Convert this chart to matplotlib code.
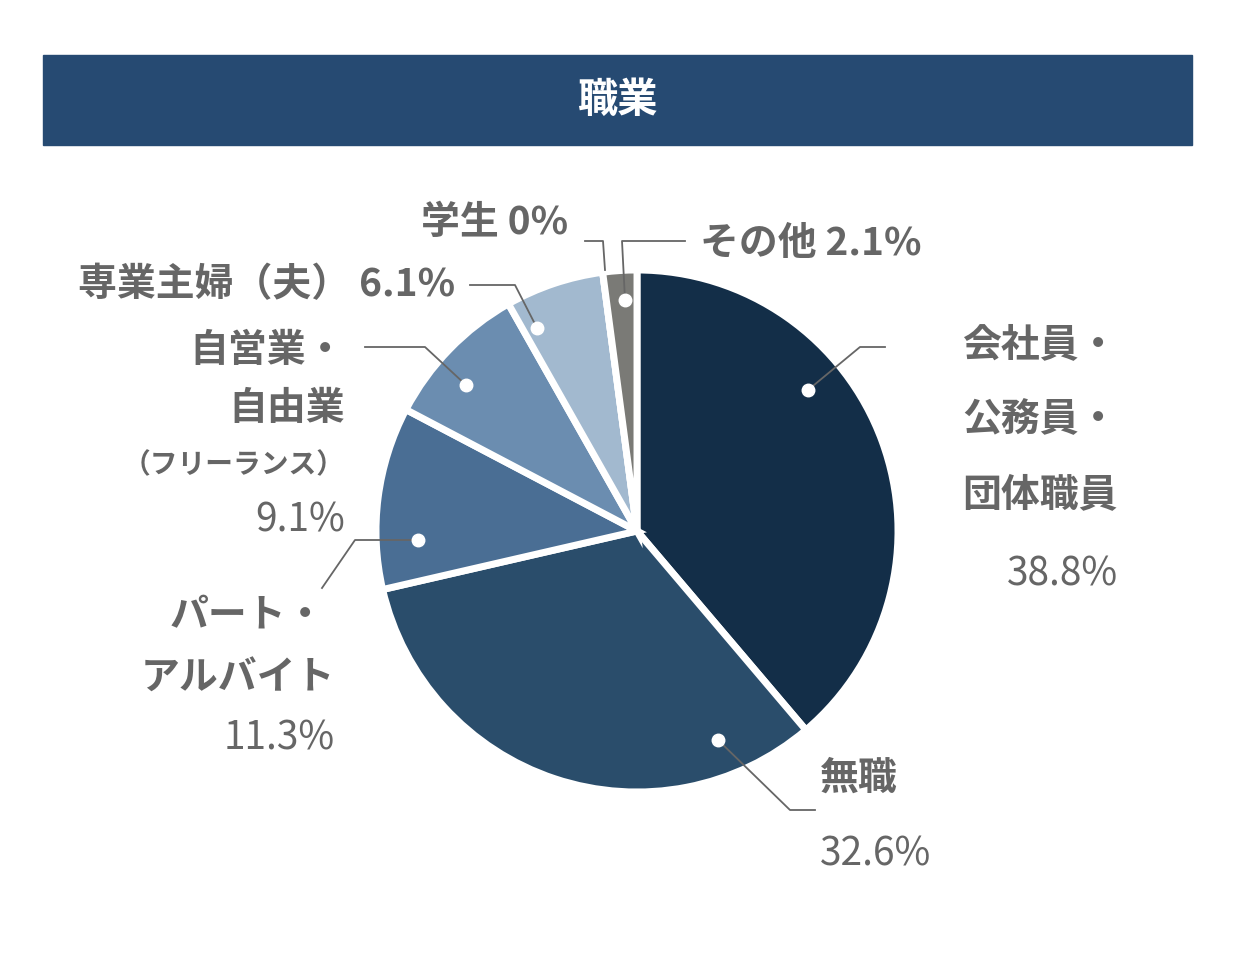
import matplotlib
matplotlib.use("Agg")
import matplotlib.pyplot as plt
from matplotlib.patches import Rectangle

categories = ["会社員・公務員・団体職員", "無職", "パート・アルバイト", "自営業・自由業（フリーランス）", "専業主婦（夫）", "学生", "その他"]
values = [38.8, 32.6, 11.3, 9.1, 6.1, 0.0, 2.1]
value_labels = ["38.8%", "32.6%", "11.3%", "9.1%", "6.1%", "0%", "2.1%"]
colors = ["#132e48", "#2a4d6b", "#4a6e94", "#6b8db0", "#a2b9cf", "#cccccc", "#7a7a76"]

W, H = 1235, 956
fig = plt.figure(figsize=(W/100, H/100), dpi=100)
ax = fig.add_axes([0, 0, 1, 1])
Y = lambda y: H - y
FONT = "Noto Sans CJK JP"
GRAY = "#666666"

ax.add_patch(Rectangle((43, Y(145)), 1149, 90, color="#264a72"))
ax.text(617, Y(100), "職業", color="white", fontsize=29, fontweight="bold",
        family=FONT, ha="center", va="center")

ax.pie(values, colors=colors, startangle=90, counterclock=False,
       center=(637, Y(531)), radius=261, frame=True,
       wedgeprops=dict(edgecolor="white", linewidth=5))
ax.set_xlim(0, W); ax.set_ylim(0, H); ax.set_aspect("equal"); ax.axis("off")

leaders = [
    [(808, 390), (860, 347), (885, 347)],
    [(718, 740), (790, 810), (815, 810)],
    [(418, 540), (355, 540), (322, 588)],
    [(466, 385), (425, 347), (365, 347)],
    [(537, 328), (515, 285), (470, 285)],
    [(605, 270), (603, 241), (585, 241)],
    [(625, 300), (622, 241), (685, 241)],
]
for i, pts in enumerate(leaders):
    xs = [p[0] for p in pts]; ys = [Y(p[1]) for p in pts]
    ax.plot(xs, ys, color=GRAY, lw=1.3, zorder=5)
    if i != 5:
        ax.plot(xs[0], ys[0], "o", color="white", ms=9, zorder=6)

def t(x, y, s, ha, size=28, weight="bold"):
    ax.text(x, Y(y), s, ha=ha, va="center", color=GRAY, fontsize=size,
            fontweight=weight, family=FONT)

t(1118, 345, "会社員・", "right"); t(1118, 420, "公務員・", "right"); t(1118, 495, "団体職員", "right")
t(1118, 575, value_labels[0], "right", weight="normal")
t(820, 778, "無職", "left"); t(820, 855, value_labels[1], "left", weight="normal")
t(325, 615, "パート・", "right"); t(335, 678, "アルバイト", "right")
t(335, 738, value_labels[2], "right", weight="normal")
t(345, 350, "自営業・", "right"); t(345, 408, "自由業", "right")
t(345, 465, "（フリーランス）", "right", size=20)
t(345, 520, value_labels[3], "right", weight="normal")
t(455, 285, "専業主婦（夫） " + value_labels[4], "right")
t(568, 222, "学生 " + value_labels[5], "right")
t(700, 243, "その他 " + value_labels[6], "left")

fig.savefig("out.png", dpi=100, facecolor="white")
